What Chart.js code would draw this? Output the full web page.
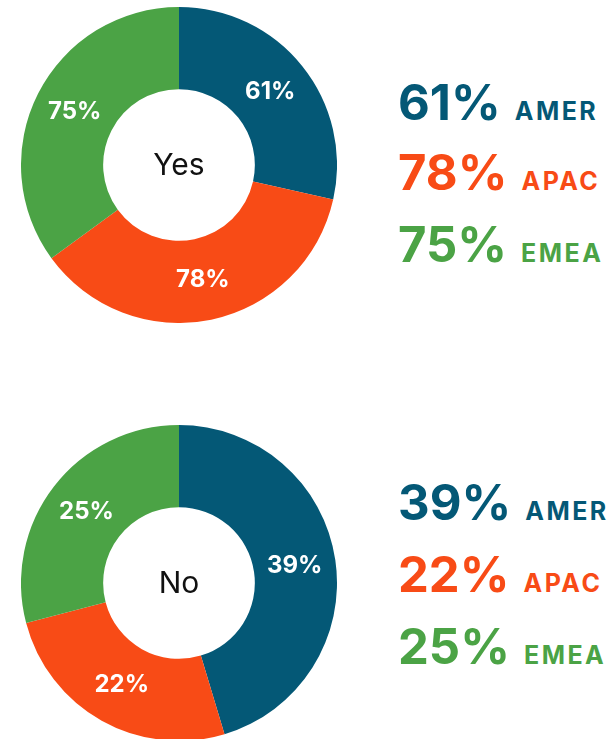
<!DOCTYPE html>
<html>
<head>
<meta charset="utf-8">
<script src="https://cdn.jsdelivr.net/npm/chart.js@4/dist/chart.umd.min.js"></script>
<style>
  html, body { margin: 0; padding: 0; background: #fff; }
  body { width: 615px; height: 739px; position: relative; overflow: hidden; font-family: Inter, "Open Sans", sans-serif; }
  canvas.donut { position: absolute; left: 21px; }
  .legend { position: absolute; left: 398px; }
  .row { position: absolute; left: 0; white-space: nowrap; line-height: 1; }
  .pct { font-weight: 700; font-size: 49px; letter-spacing: 0px; }
  .reg { font-weight: 700; font-size: 25px; letter-spacing: 2.5px; margin-left: 14px; }
</style>
</head>
<body>
<canvas id="yesChart" class="donut" width="316" height="316" style="top:7px"></canvas>
<canvas id="noChart" class="donut" width="316" height="316" style="top:425px"></canvas>
<div id="yesLegend" class="legend" style="top:0px"></div>
<div id="noLegend" class="legend" style="top:0px"></div>
<script>
// Survey answers by region
const regions = ['AMER', 'APAC', 'EMEA'];
const yesShare = [61, 78, 75];
const noShare = [39, 22, 25];
const regionColors = ['#045876', '#F84B16', '#4BA345'];

// White percentage labels in the middle of each ring segment
const sliceLabels = {
  id: 'sliceLabels',
  afterDatasetsDraw(chart) {
    const ctx = chart.ctx;
    const meta = chart.getDatasetMeta(0);
    const values = chart.data.datasets[0].data;
    ctx.save();
    ctx.fillStyle = '#ffffff';
    ctx.font = '700 24px Inter, "Open Sans", sans-serif';
    ctx.textAlign = 'center';
    ctx.textBaseline = 'middle';
    meta.data.forEach((arc, i) => {
      const p = arc.getCenterPoint();
      ctx.fillText(values[i] + '%', p.x, p.y);
    });
    ctx.restore();
  }
};

// Answer name written in the hole of the ring
const centerText = {
  id: 'centerText',
  afterDraw(chart, args, opts) {
    const ctx = chart.ctx;
    const a = chart.chartArea;
    ctx.save();
    ctx.fillStyle = '#111111';
    ctx.font = '400 30px Inter, "Open Sans", sans-serif';
    ctx.textAlign = 'center';
    ctx.textBaseline = 'middle';
    ctx.fillText(opts.text, (a.left + a.right) / 2, (a.top + a.bottom) / 2 + 1);
    ctx.restore();
  }
};

function makeDonut(id, values, label) {
  return new Chart(document.getElementById(id), {
    type: 'doughnut',
    data: {
      labels: regions,
      datasets: [{
        data: values,
        backgroundColor: regionColors,
        borderWidth: 0,
        hoverOffset: 0
      }]
    },
    options: {
      responsive: false,
      animation: false,
      devicePixelRatio: 1,
      cutout: '48%',
      layout: { padding: 0 },
      plugins: {
        legend: { display: false },
        tooltip: { enabled: false },
        centerText: { text: label }
      }
    },
    plugins: [sliceLabels, centerText]
  });
}

function makeLegend(id, values, tops) {
  const box = document.getElementById(id);
  regions.forEach((r, i) => {
    const row = document.createElement('div');
    row.className = 'row';
    row.style.top = tops[i] + 'px';
    row.style.color = regionColors[i];
    const pct = document.createElement('span');
    pct.className = 'pct';
    pct.textContent = values[i] + '%';
    const reg = document.createElement('span');
    reg.className = 'reg';
    reg.textContent = r;
    row.appendChild(pct);
    row.appendChild(reg);
    box.appendChild(row);
  });
}

makeDonut('yesChart', yesShare, 'Yes');
makeDonut('noChart', noShare, 'No');
makeLegend('yesLegend', yesShare, [78, 148, 220]);
makeLegend('noLegend', noShare, [478, 550, 622]);
</script>
</body>
</html>
